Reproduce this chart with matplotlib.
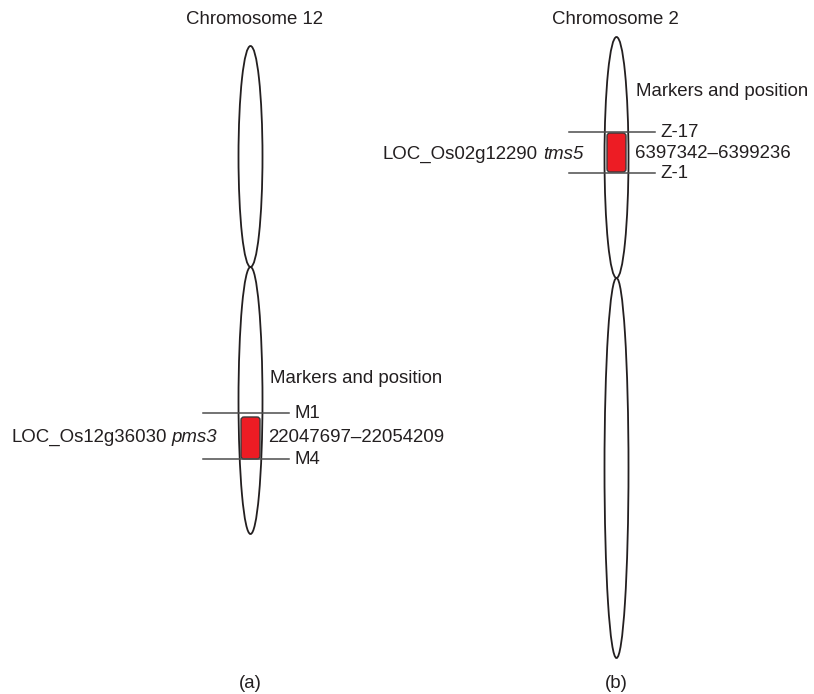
import matplotlib.pyplot as plt
from matplotlib.patches import Ellipse, FancyBboxPatch

plt.rcParams['font.family'] = ['Liberation Sans', 'DejaVu Sans']

# chromosome layout (diagram units, y grows downward)
chrom_titles = ["Chromosome 12", "Chromosome 2"]
panel_labels = ["(a)", "(b)"]
chrom_x = [250.5, 616.5]
title_x = [255, 615]
chrom_top = [46, 37]
chrom_centromere = [267, 278]
chrom_bottom = [534, 658]

# markers flanking each gene
marker_names = [["M1", "M4"], ["Z-17", "Z-1"]]
marker_y = [[413, 459], [132, 173]]
gene_top = [417, 133]
gene_bottom = [459, 172]
gene_ids = ["LOC_Os12g36030", "LOC_Os02g12290"]
gene_names = ["pms3", "tms5"]
gene_ranges = ["22047697\u201322054209", "6397342\u20136399236"]
header_y = [378, 91]

fig = plt.figure(figsize=(8.14, 6.94), dpi=100)
ax = fig.add_axes([0, 0, 1, 1])
ax.set_xlim(0, 814)
ax.set_ylim(694, 0)
ax.axis('off')
renderer = fig.canvas.get_renderer()

txt = dict(fontsize=13.4, color='#231f20')
w = 24

for i in range(2):
    x = chrom_x[i]
    # two arms as ellipses meeting at the centromere
    for a, b in [(chrom_top[i], chrom_centromere[i]), (chrom_centromere[i], chrom_bottom[i])]:
        ax.add_patch(Ellipse((x, (a + b) / 2), w, b - a, fill=False,
                             edgecolor='#231f20', lw=1.3))

    ax.text(title_x[i], 19, chrom_titles[i], ha='center', va='center', **txt)
    ax.text(x, 683, panel_labels[i], ha='center', va='center', **txt)

    # marker lines
    for name, y in zip(marker_names[i], marker_y[i]):
        ax.plot([x - 48, x + 38], [y, y], color='#4d4d4d', lw=1.1)
        ax.text(x + 44, y, name, ha='left', va='center', **txt)

    # gene box
    gt, gb = gene_top[i], gene_bottom[i]
    ax.add_patch(FancyBboxPatch((x - 7.5, gt + 2), 15, gb - gt - 4,
                                boxstyle="round,pad=2,rounding_size=3",
                                facecolor='#ed1c24', edgecolor='#3a3a3a', lw=1))

    ymid = (marker_y[i][0] + marker_y[i][1]) / 2 + 1
    ax.text(x + 18, ymid, gene_ranges[i], ha='left', va='center', **txt)
    ax.text(x + 19, header_y[i], "Markers and position",
            ha='left', va='center', **txt)

    # gene id + italic gene name, placed left of the chromosome
    base = ymid + 5
    it = ax.text(x - 33, base, gene_names[i], ha='right', va='baseline',
                 style='italic', **txt)
    wd = it.get_window_extent(renderer).width
    ax.text(x - 33 - wd - 5, base, gene_ids[i], ha='right', va='baseline', **txt)

fig.savefig("out.png", dpi=100)
